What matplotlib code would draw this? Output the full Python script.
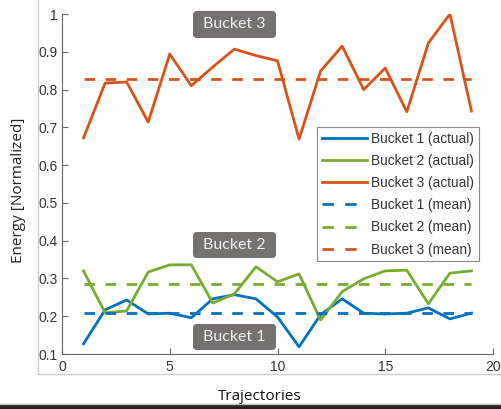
import matplotlib
matplotlib.use("Agg")
import matplotlib.pyplot as plt
from matplotlib.lines import Line2D
from matplotlib.patches import FancyBboxPatch, Rectangle
from matplotlib.transforms import IdentityTransform

trajectories = list(range(1, 20))
bucket1 = [0.127, 0.217, 0.243, 0.206, 0.208, 0.196, 0.246, 0.257, 0.246, 0.198,
           0.119, 0.204, 0.246, 0.208, 0.206, 0.208, 0.222, 0.193, 0.208]
bucket2 = [0.320, 0.209, 0.214, 0.317, 0.336, 0.336, 0.235, 0.259, 0.331, 0.291,
           0.312, 0.190, 0.265, 0.299, 0.320, 0.322, 0.233, 0.314, 0.320]
bucket3 = [0.672, 0.817, 0.820, 0.714, 0.894, 0.810, 0.860, 0.907, 0.890, 0.876,
           0.669, 0.849, 0.915, 0.800, 0.857, 0.741, 0.923, 1.000, 0.743]
mean1 = 0.209
mean2 = 0.286
mean3 = 0.828
labels = ["Bucket 1 (actual)", "Bucket 2 (actual)", "Bucket 3 (actual)",
          "Bucket 1 (mean)", "Bucket 2 (mean)", "Bucket 3 (mean)"]
box_labels = ["Bucket 1", "Bucket 2", "Bucket 3"]

c1, c2, c3 = "#0072BD", "#77AC30", "#D95319"

W, H = 501, 409
fig = plt.figure(figsize=(W / 100, H / 100), dpi=100)
ax = fig.add_axes([62 / W, 1 - 354 / H, (493 - 62) / W, (354 - 14) / H])

lw = 2.0
dash = (0, (3.8, 3.8))
h1, = ax.plot(trajectories, bucket1, color=c1, lw=lw, label=labels[0])
h2, = ax.plot(trajectories, bucket2, color=c2, lw=lw, label=labels[1])
h3, = ax.plot(trajectories, bucket3, color=c3, lw=lw, label=labels[2])
x0, x1 = trajectories[0], trajectories[-1]
proxies = []
for m, c, lab in [(mean1, c1, labels[3]), (mean2, c2, labels[4]), (mean3, c3, labels[5])]:
    ax.plot([x0, x1], [m, m], color=c, lw=lw, ls=dash)
    proxies.append(Line2D([], [], color=c, lw=lw, ls=(0, (4.1, 4.1)), label=lab))

ax.set_xlim(0, 20)
ax.set_ylim(0.1, 1.0)
ax.set_xticks([0, 5, 10, 15, 20])
ax.set_yticks([0.1, 0.2, 0.3, 0.4, 0.5, 0.6, 0.7, 0.8, 0.9, 1.0])
ax.set_yticklabels(["0.1", "0.2", "0.3", "0.4", "0.5", "0.6", "0.7", "0.8", "0.9", "1"])
for s in ["top", "right"]:
    ax.spines[s].set_visible(False)
for s in ["left", "bottom"]:
    ax.spines[s].set_color("#666666")
    ax.spines[s].set_linewidth(0.8)
ax.tick_params(direction="in", length=4, width=0.8, colors="#666666",
               labelcolor="#333333", labelsize=10)
for t in ax.get_xticklabels() + ax.get_yticklabels():
    t.set_fontfamily("Liberation Sans")
ax.tick_params(axis="x", pad=4)
ax.tick_params(axis="y", pad=3)
ax.patch.set_alpha(0)

leg = ax.legend(handles=[h1, h2, h3] + proxies,
                loc="upper left", bbox_to_anchor=((317 - 62) / (493 - 62), 1 - (127 - 14) / 340),
                frameon=True, fancybox=False, edgecolor="#888888", framealpha=1,
                prop={"family": "Liberation Sans", "size": 9.8},
                handlelength=3.3, handletextpad=0.35, labelspacing=0.6,
                borderpad=0.35, borderaxespad=0)
leg.get_frame().set_linewidth(0.8)
for t in leg.get_texts():
    t.set_color("#333333")

# annotation boxes (pixel coords, top-origin ranges)
box_rows = [(324, 350), (232, 258), (11, 38)]
for lab, (ytop, ybot) in zip(box_labels, box_rows):
    bx0, bx1 = 193, 276
    patch = FancyBboxPatch((bx0, H - ybot), bx1 - bx0, ybot - ytop,
                           boxstyle="round,pad=0,rounding_size=4",
                           fc="#767171", ec="none", transform=IdentityTransform())
    fig.add_artist(patch)
    fig.text((bx0 + bx1) / 2 / W, 1 - (ytop + ybot) / 2 / H, lab, ha="center", va="center",
             fontsize=11.5, family="Lato", color="#f2f2f2")

fig.text(19 / W, 1 - 190 / H, "Energy [Normalized]", rotation=90, ha="center", va="center",
         fontsize=11, family="Open Sans", color="#222222")
fig.text(260 / W, 1 - 397 / H, "Trajectories", ha="center", va="center",
         fontsize=11, family="Open Sans", color="#111111")

fig.add_artist(Line2D([38 / W, 38 / W], [1 - 374 / H, 1], transform=fig.transFigure,
                      color="#cccccc", lw=1))
fig.add_artist(Line2D([38 / W, 1], [1 - 374 / H, 1 - 374 / H], transform=fig.transFigure,
                      color="#cccccc", lw=1))
fig.add_artist(Line2D([0, 1], [1 - 404 / H, 1 - 404 / H], transform=fig.transFigure,
                      color="#bbbbbb", lw=1))
fig.add_artist(Rectangle((0, 0), 1, 4 / H, transform=fig.transFigure, color="#222222"))

fig.savefig("out.png", dpi=100)
